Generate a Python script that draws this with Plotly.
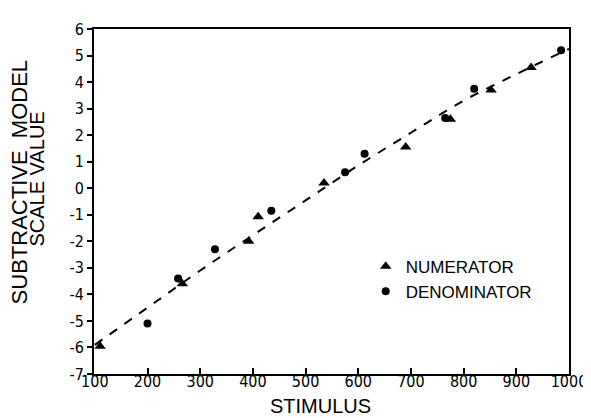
import plotly.graph_objects as go

# Data
num_x = [110, 266, 392, 410, 535, 690, 775, 852, 928]
num_y = [-5.95, -3.6, -2.0, -1.07, 0.2, 1.55, 2.6, 3.7, 4.55]
den_x = [200, 258, 328, 435, 575, 612, 765, 820, 985]
den_y = [-5.1, -3.4, -2.3, -0.85, 0.6, 1.3, 2.65, 3.75, 5.2]
curve_x = [100, 200, 300, 400, 500, 600, 700, 800, 900, 1000]
curve_y = [-5.9, -4.5, -3.1, -1.77, -0.46, 0.86, 2.09, 3.3, 4.3, 5.25]
x_ticks = [100, 200, 300, 400, 500, 600, 700, 800, 900, 1000]
y_ticks = [6, 5, 4, 3, 2, 1, 0, -1, -2, -3, -4, -5, -6, -7]
y_tick_text = [str(v) for v in y_ticks]

tick_font = dict(family="DejaVu Sans Condensed, Liberation Sans Narrow, Liberation Sans, Arial", size=16, color="black")

fig = go.Figure()
fig.add_trace(go.Scatter(x=curve_x, y=curve_y, mode="lines", line=dict(color="black", width=2, dash="dash", shape="spline"),
                         showlegend=False, hoverinfo="skip"))
fig.add_trace(go.Scatter(x=num_x, y=num_y, mode="markers", name="NUMERATOR",
                         marker=dict(symbol="triangle-up", size=10, color="black")))
fig.add_trace(go.Scatter(x=den_x, y=den_y, mode="markers", name="DENOMINATOR",
                         marker=dict(symbol="circle", size=8, color="black")))

fig.update_layout(
    width=591, height=418,
    margin=dict(l=86, r=26, t=14, b=52),
    paper_bgcolor="white", plot_bgcolor="white",
    showlegend=True,
    legend=dict(x=0.572, y=0.275, xanchor="left", yanchor="middle", bgcolor="rgba(0,0,0,0)",
                font=dict(family="Liberation Sans, Arial", size=17, color="black"),
                itemwidth=30, tracegroupgap=0),
    xaxis=dict(range=[98.4, 1000], tickvals=x_ticks, ticks="inside", ticklen=6, tickwidth=2, tickcolor="black",
               showgrid=False, zeroline=False, showline=True, linecolor="black", linewidth=2, mirror=True,
               tickfont=tick_font, ticklabelstandoff=-8),
    yaxis=dict(range=[-7, 6], tickvals=y_ticks, ticktext=y_tick_text, ticks="outside", ticklen=5, tickwidth=2,
               tickcolor="black", showgrid=False, zeroline=False, showline=True, linecolor="black", linewidth=2,
               mirror=True, tickfont=tick_font),
    annotations=[
        dict(text="SUBTRACTIVE  MODEL", xref="paper", yref="paper", x=-0.156, y=0.555,
             xanchor="center", yanchor="middle", textangle=-90, showarrow=False,
             font=dict(family="Liberation Sans, Arial", size=22, color="black")),
        dict(text="SCALE VALUE", xref="paper", yref="paper", x=-0.119, y=0.565,
             xanchor="center", yanchor="middle", textangle=-90, showarrow=False,
             font=dict(family="Liberation Sans, Arial", size=20, color="black")),
        dict(text="STIMULUS", xref="paper", yref="paper", x=0.476, y=-0.092, xanchor="center", yanchor="middle",
             showarrow=False, font=dict(family="Liberation Sans, Arial", size=20, color="black")),
    ],
)

fig.write_html("out.html")
